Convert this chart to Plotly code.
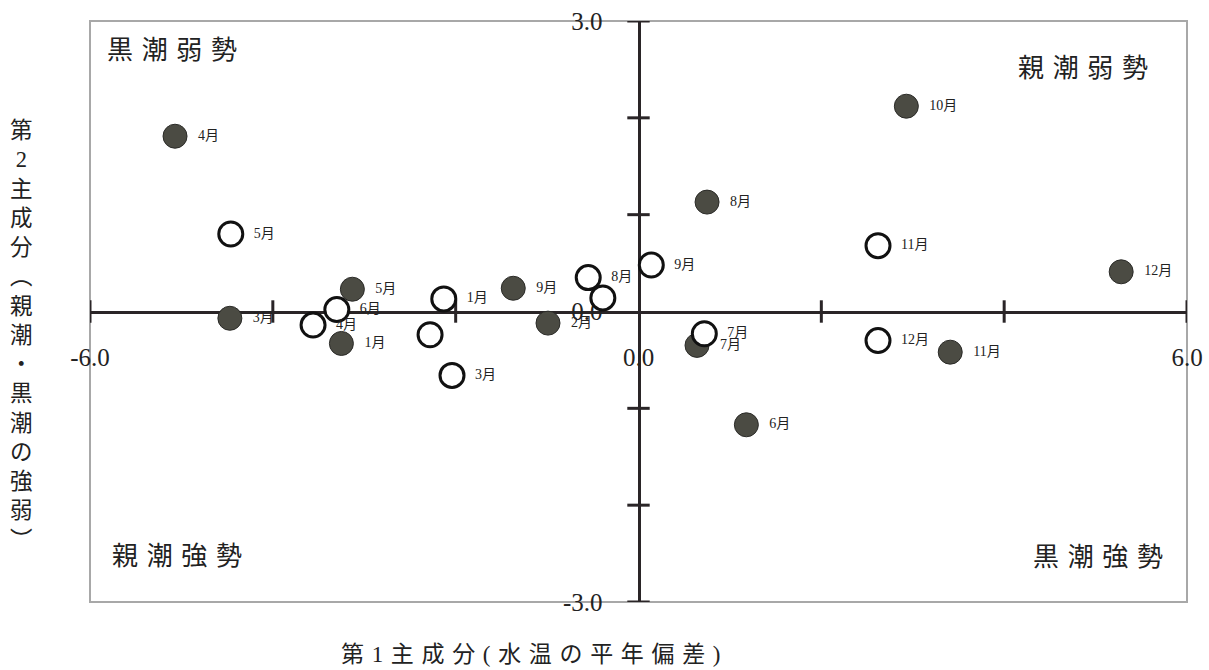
import plotly.graph_objects as go

# ---- data ----
filled_labels = ["4月", "10月", "8月", "12月", "5月", "9月", "3月", "1月", "2月", "7月", "11月", "6月"]
filled_x = [-5.07, 2.93, 0.75, 5.28, -3.13, -1.37, -4.47, -3.25, -0.99, 0.64, 3.41, 1.18]
filled_y = [1.81, 2.12, 1.13, 0.41, 0.23, 0.24, -0.07, -0.33, -0.12, -0.35, -0.42, -1.17]

open_labels = ["5月", "11月", "9月", "8月", "", "1月", "6月", "4月", "", "3月", "7月", "12月"]
open_x = [-4.46, 2.62, 0.14, -0.55, -0.39, -2.13, -3.30, -3.56, -2.28, -2.04, 0.72, 2.62]
open_y = [0.80, 0.68, 0.48, 0.35, 0.14, 0.13, 0.02, -0.14, -0.24, -0.66, -0.23, -0.30]

x_tick_marks = [-6, -4, -2, 2, 4, 6]
y_tick_marks = [-3, -2, -1, 1, 2, 3]
x_label_vals = [-6, 0, 6]
x_label_text = ["-6.0", "0.0", "6.0"]
y_label_vals = [-3, 0, 3]
y_label_text = ["-3.0", "0.0", "3.0"]

quadrant_texts = ["黒潮弱勢", "親潮弱勢", "親潮強勢", "黒潮強勢"]
x_title = "第1主成分(水温の平年偏差)"
y_title_chars = ["第", "2", "主", "成", "分", "︵", "親", "潮", "・", "黒", "潮", "の", "強", "弱", "︶"]

FONT = "Liberation Serif, Noto Sans CJK JP, serif"
AXIS_COLOR = "#2a2527"
FILL_DARK = "#4b4b43"
GAP = "\u2004"  # visual letter spacing as in the original typesetting

fig = go.Figure()

# tick marks crossing the center axes
fig.add_trace(go.Scatter(
    x=x_tick_marks, y=[0] * len(x_tick_marks), mode="markers",
    marker=dict(symbol="line-ns-open", size=16, color=AXIS_COLOR, line=dict(width=3, color=AXIS_COLOR)),
    hoverinfo="skip", showlegend=False))
fig.add_trace(go.Scatter(
    x=[0] * len(y_tick_marks), y=y_tick_marks, mode="markers",
    marker=dict(symbol="line-ew-open", size=16, color=AXIS_COLOR, line=dict(width=3, color=AXIS_COLOR)),
    hoverinfo="skip", showlegend=False))

# filled points
fig.add_trace(go.Scatter(
    x=filled_x, y=filled_y, mode="markers+text",
    text=["  " + t for t in filled_labels], textposition="middle right",
    textfont=dict(family=FONT, size=14, color="#222"),
    marker=dict(size=24, color=FILL_DARK, line=dict(width=1, color="#2b2b28")),
    showlegend=False))

# open points
fig.add_trace(go.Scatter(
    x=open_x, y=open_y, mode="markers+text",
    text=[("  " + t) if t else "" for t in open_labels], textposition="middle right",
    textfont=dict(family=FONT, size=14, color="#222"),
    marker=dict(size=24, color="white", line=dict(width=3, color="#111")),
    showlegend=False))

# frame of plot area
fig.add_shape(type="rect", xref="paper", yref="paper", x0=0, y0=0, x1=1, y1=1,
              line=dict(color="#a8a8a8", width=2), layer="below")

annotations = []
pos = [(0.014, 0.950, "left"), (0.966, 0.919, "right"), (0.018, 0.079, "left"), (0.980, 0.077, "right")]
for (px, py, anc), t in zip(pos, quadrant_texts):
    annotations.append(dict(x=px, y=py, xref="paper", yref="paper", text=GAP.join(t), showarrow=False,
                            xanchor=anc, yanchor="middle",
                            font=dict(family=FONT, size=26, color="#222")))
annotations.append(dict(x=0.402, y=-0.091, xref="paper", yref="paper", text=GAP.join(x_title),
                        showarrow=False, xanchor="center", yanchor="middle",
                        font=dict(family=FONT, size=23, color="#222")))
annotations.append(dict(x=-0.062, y=0.458, xref="paper", yref="paper", text="<br>".join(y_title_chars),
                        showarrow=False, xanchor="center", yanchor="middle",
                        font=dict(family=FONT, size=22.5, color="#222")))

fig.update_layout(
    width=1209, height=670,
    margin=dict(l=90, r=22, t=21, b=68, autoexpand=False),
    paper_bgcolor="white", plot_bgcolor="white",
    annotations=annotations,
    xaxis=dict(range=[-6, 6], anchor="free", position=0.5, showgrid=False, zeroline=False,
               automargin=False,
               showline=True, linecolor=AXIS_COLOR, linewidth=3, layer="below traces",
               tickvals=x_label_vals, ticktext=x_label_text, ticks="", ticklabelstandoff=22,
               tickfont=dict(family=FONT, size=25, color="#222")),
    yaxis=dict(range=[-3, 3], anchor="free", position=0.5, showgrid=False, zeroline=False,
               automargin=False,
               showline=True, linecolor=AXIS_COLOR, linewidth=3, layer="below traces",
               tickvals=y_label_vals, ticktext=y_label_text, ticks="", ticklabelstandoff=30,
               tickfont=dict(family=FONT, size=25, color="#222")),
)

fig.write_html("out.html", config={"displayModeBar": False},
               post_script="document.body.style.margin='0';document.body.style.overflow='hidden';")
